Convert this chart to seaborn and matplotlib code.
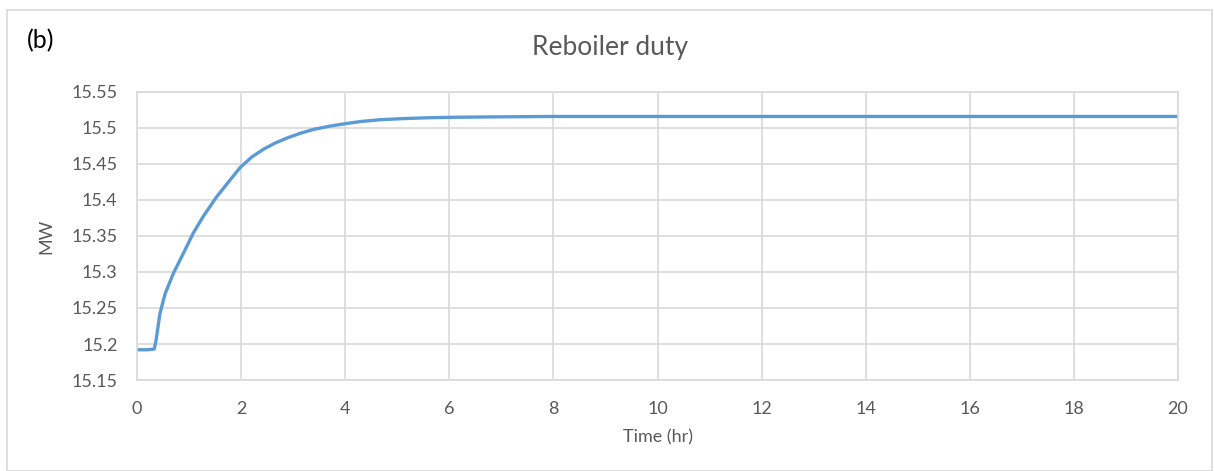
import pandas as pd
import seaborn as sns
import matplotlib.pyplot as plt
from matplotlib.patches import Rectangle

# values
time_hr = [0, 0.1, 0.2, 0.33, 0.365, 0.44, 0.54, 0.697, 0.89, 1.08, 1.27, 1.53,
           1.79, 1.98, 2.2, 2.43, 2.65, 2.88, 3.13, 3.39, 3.7, 4.0, 4.3, 4.67,
           5.1, 5.63, 6.2, 7, 8, 10, 12, 14, 16, 18, 20]
duty_mw = [15.192, 15.192, 15.192, 15.193, 15.205, 15.2426, 15.27, 15.298, 15.326,
           15.354, 15.377, 15.4045, 15.428, 15.445, 15.4595, 15.4705, 15.479,
           15.486, 15.4925, 15.498, 15.5025, 15.506, 15.509, 15.5115,
           15.513, 15.5143, 15.515, 15.5155, 15.516, 15.516, 15.516, 15.516,
           15.516, 15.516, 15.516]

df = pd.DataFrame({'Time (hr)': time_hr, 'MW': duty_mw})

sns.set_style('white')
plt.rcParams['font.family'] = ['Lato', 'DejaVu Sans']

grey_txt = '#595959'
grid_c = '#d9d9d9'

fig = plt.figure(figsize=(12.14, 4.71), dpi=100)
ax = fig.add_axes([0.1129, 0.1932, 0.8574, 0.6115])

sns.lineplot(data=df, x='Time (hr)', y='MW', ax=ax, color='#5b9bd5', linewidth=2.4)

ax.set_xlim(0, 20)
ax.set_ylim(15.15, 15.55)
ax.set_xticks(range(0, 21, 2))
yt = [15.15 + 0.05 * i for i in range(9)]
ax.set_yticks(yt)
ax.set_yticklabels(['15.15', '15.2', '15.25', '15.3', '15.35', '15.4', '15.45', '15.5', '15.55'])
ax.grid(True, color=grid_c, linewidth=1.2)
for s in ax.spines.values():
    s.set_color(grid_c)
    s.set_linewidth(1.2)
ax.tick_params(length=0, labelsize=13, labelcolor=grey_txt)
ax.tick_params(axis='x', pad=15)
ax.tick_params(axis='y', pad=14)
ax.set_xlabel('Time (hr)', fontsize=13, color=grey_txt, labelpad=9)
ax.set_ylabel('MW', fontsize=13, color=grey_txt, labelpad=12)

fig.text(0.5025, 0.9, 'Reboiler duty', ha='center', va='center', fontsize=19, color=grey_txt)
fig.text(0.022, 0.913, '(b)', ha='left', va='center', fontsize=18, color='black')

fig.patches.append(Rectangle((0.006, 0.0), 0.992, 0.978, transform=fig.transFigure,
                             fill=False, edgecolor=grid_c, linewidth=1.2))

fig.savefig('out.png', dpi=100)
